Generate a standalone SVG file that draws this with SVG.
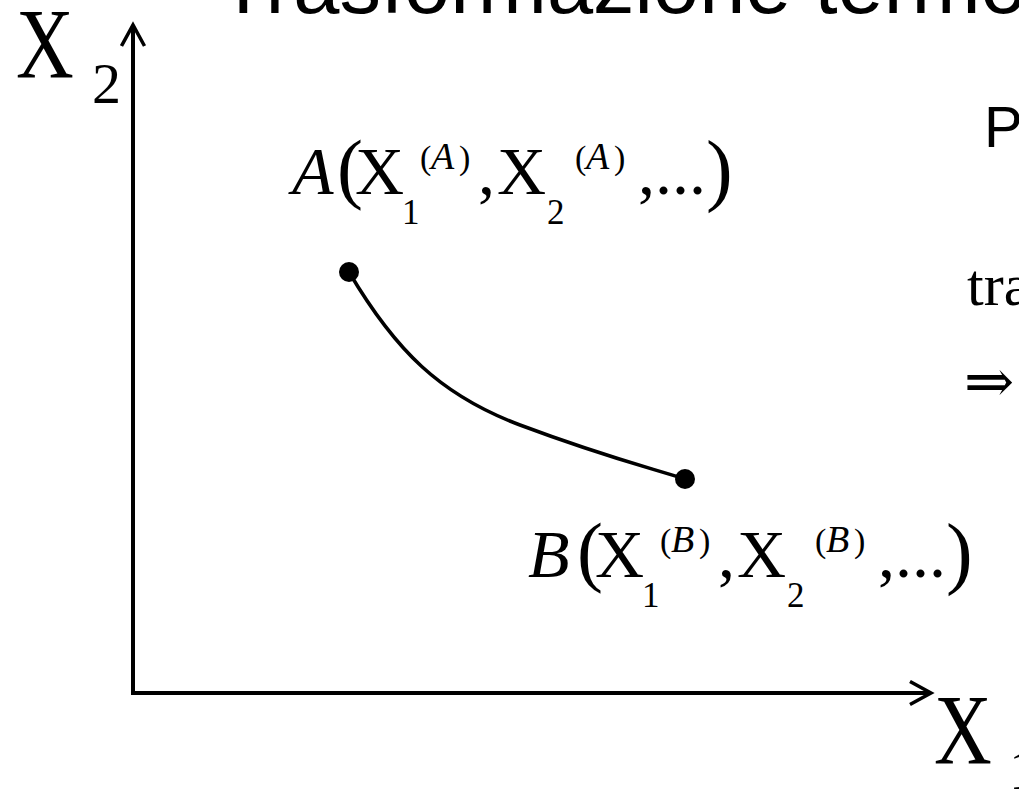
<svg xmlns="http://www.w3.org/2000/svg" width="1019" height="791" viewBox="0 0 1019 791">
<style>
.title{font-family:"Liberation Sans",Arial,sans-serif;font-size:83px;fill:#000}
.sans{font-family:"Liberation Sans",Arial,sans-serif;fill:#000}
.serif{font-family:"Liberation Serif","Times New Roman",serif;fill:#000}
.it{font-style:italic}
.axis{stroke:#000;stroke-width:4;fill:none}
.curve{stroke:#000;stroke-width:3.5;fill:none}
.dot{fill:#000}
</style>
<defs>
<marker id="open" markerUnits="userSpaceOnUse" markerWidth="30" markerHeight="30" refX="23" refY="13" orient="auto">
<polyline points="2,1.5 23,13 2,24.5" fill="none" stroke="#000" stroke-width="3.5"/>
</marker>
</defs>
<rect width="1019" height="791" fill="#fff"/>
<text class="title" x="218" y="13">Trasformazione termo</text>
<g id="connectors">
<path class="axis" d="M133,695 L133,25" marker-end="url(#open)"/>
<path class="axis" d="M131,693 L931,693" marker-end="url(#open)"/>
<path class="curve" d="M349,272 C395,350 440,395 520,425 S640,465 685,479"/>
</g>
<g id="axis-x2">
<text class="serif" transform="translate(16,77) scale(0.8,1)" font-size="100">X</text>
<text class="serif" x="92" y="103" font-size="58">2</text>
</g>
<g id="axis-x1">
<text class="serif" transform="translate(934,763) scale(0.8,1)" font-size="100">X</text>
<text class="serif" x="1009" y="789" font-size="58">1</text>
</g>
<g id="node-A">
<circle class="dot" cx="349" cy="272" r="10"/>
<g id="label-A" class="serif">
<text class="it" x="292" y="194" font-size="68">A</text>
<text x="337" y="194" font-size="78">(</text>
<text x="355" y="194" font-size="68">X</text>
<text x="402" y="224" font-size="35">1</text>
<text x="420" y="169" font-size="34">(</text>
<text class="it" x="431" y="169" font-size="38">A</text>
<text x="459" y="169" font-size="34">)</text>
<text x="478" y="194" font-size="68">,</text>
<text x="497" y="194" font-size="68">X</text>
<text x="547" y="224" font-size="35">2</text>
<text x="575" y="169" font-size="34">(</text>
<text class="it" x="586" y="169" font-size="38">A</text>
<text x="614" y="169" font-size="34">)</text>
<text x="638" y="194" font-size="68">,...</text>
<text x="706" y="196" font-size="80">)</text>
</g>
</g>
<g id="node-B">
<circle class="dot" cx="685" cy="479" r="10"/>
<g id="label-B" class="serif" transform="translate(240,383)">
<text class="it" x="288" y="194" font-size="68">B</text>
<text x="337" y="194" font-size="78">(</text>
<text x="355" y="194" font-size="68">X</text>
<text x="402" y="224" font-size="35">1</text>
<text x="420" y="169" font-size="34">(</text>
<text class="it" x="431" y="169" font-size="38">B</text>
<text x="459" y="169" font-size="34">)</text>
<text x="478" y="194" font-size="68">,</text>
<text x="497" y="194" font-size="68">X</text>
<text x="547" y="224" font-size="35">2</text>
<text x="575" y="169" font-size="34">(</text>
<text class="it" x="586" y="169" font-size="38">B</text>
<text x="614" y="169" font-size="34">)</text>
<text x="638" y="194" font-size="68">,...</text>
<text x="706" y="196" font-size="80">)</text>
</g>
</g>
<g id="right-text">
<text class="sans" x="984" y="147" font-size="58">P</text>
<text class="serif" x="967" y="305" font-size="60">tra</text>
<text x="964" y="402" font-family="'DejaVu Serif',serif" font-size="60">⇒</text>
</g>
</svg>
